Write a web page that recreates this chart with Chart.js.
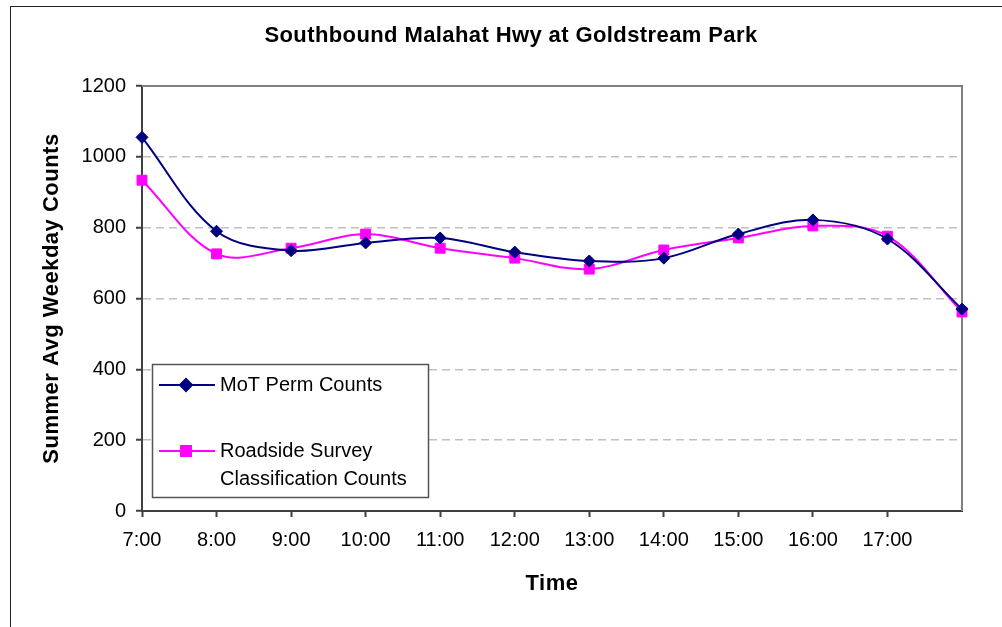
<!DOCTYPE html>
<html>
<head>
<meta charset="utf-8">
<script src="https://cdn.jsdelivr.net/npm/chart.js@4.4.0/dist/chart.umd.min.js"></script>
<style>
  html, body { margin: 0; padding: 0; background: #fff; }
  #wrap { width: 1002px; height: 627px; }
</style>
</head>
<body>
<div id="wrap"><canvas id="chart" width="1002" height="627"></canvas></div>
<script>
// Data (18:00 has no label on the axis)
const hours = ['7:00', '8:00', '9:00', '10:00', '11:00', '12:00', '13:00', '14:00', '15:00', '16:00', '17:00', ''];
const motPerm = [1055, 790, 735, 757, 771, 731, 706, 714, 782, 822, 768, 570];
const roadside = [934, 726, 742, 782, 742, 714, 683, 737, 771, 805, 776, 562];
const yMin = 0, yMax = 1200, yStep = 200;

const chartTitle = 'Southbound Malahat Hwy at Goldstream Park';
const xTitle = 'Time';
const yTitle = 'Summer Avg Weekday Counts';
const legendLines = [['MoT Perm Counts'], ['Roadside Survey', 'Classification Counts']];

const FONT = 'Arial, "Liberation Sans", sans-serif';
const axisColor = '#404040';

// titles, outer frame, plot border and the boxed legend
const decorations = {
  id: 'decorations',
  beforeDraw(chart) {
    const ctx = chart.ctx;
    const area = chart.chartArea;
    ctx.save();
    ctx.fillStyle = '#fff';
    ctx.fillRect(0, 0, chart.width, chart.height);
    ctx.strokeStyle = '#222';
    ctx.lineWidth = 1;
    ctx.strokeRect(10.5, 6.5, chart.width + 20, chart.height + 20);

    ctx.fillStyle = '#000';
    ctx.textAlign = 'center';
    ctx.textBaseline = 'middle';
    ctx.font = 'bold 22px ' + FONT;
    ctx.letterSpacing = '0.4px';
    ctx.fillText(chartTitle, 511, 36);
    ctx.letterSpacing = '0.5px';
    ctx.fillText(xTitle, (area.left + area.right) / 2, 584);

    ctx.translate(52, (area.top + area.bottom) / 2);
    ctx.rotate(-Math.PI / 2);
    ctx.fillText(yTitle, 0, 0);
    ctx.restore();
  },
  beforeDatasetsDraw(chart) {
    const ctx = chart.ctx;
    const { left, top, right, bottom } = chart.chartArea;
    ctx.save();
    ctx.strokeStyle = '#808080';
    ctx.lineWidth = 2;
    ctx.beginPath();
    ctx.moveTo(left, top);
    ctx.lineTo(right, top);
    ctx.lineTo(right, bottom);
    ctx.stroke();
    ctx.restore();
  },
  afterDraw(chart) {
    const ctx = chart.ctx;
    const box = { x: 152, y: 364, w: 276, h: 133 };
    ctx.save();
    ctx.fillStyle = '#fff';
    ctx.fillRect(box.x, box.y, box.w, box.h);
    ctx.strokeStyle = '#555';
    ctx.lineWidth = 1.5;
    ctx.strokeRect(box.x + 0.5, box.y + 0.5, box.w, box.h);

    const rows = [385, 451];
    chart.data.datasets.forEach((ds, i) => {
      const y = rows[i];
      ctx.strokeStyle = ds.borderColor;
      ctx.lineWidth = ds.borderWidth;
      ctx.beginPath();
      ctx.moveTo(159, y);
      ctx.lineTo(215, y);
      ctx.stroke();
      ctx.fillStyle = ds.pointBackgroundColor;
      ctx.strokeStyle = ds.pointBorderColor;
      Chart.helpers.drawPoint(ctx, {
        pointStyle: ds.pointStyle, radius: ds.pointRadius, rotation: 0, borderWidth: 1
      }, 186, y);
      ctx.fillStyle = '#000';
      ctx.font = '20px ' + FONT;
      ctx.textAlign = 'left';
      ctx.textBaseline = 'middle';
      legendLines[i].forEach((t, j) => ctx.fillText(t, 220, y + j * 28));
    });
    ctx.restore();
  }
};

new Chart(document.getElementById('chart'), {
  type: 'line',
  data: {
    labels: hours,
    datasets: [
      {
        label: 'MoT Perm Counts',
        data: motPerm,
        borderColor: '#000080',
        backgroundColor: '#000080',
        pointBackgroundColor: '#000080',
        pointBorderColor: '#000080',
        borderWidth: 2,
        pointStyle: 'rectRot',
        pointRadius: 6,
        pointBorderWidth: 1,
        tension: 0.35
      },
      {
        label: 'Roadside Survey Classification Counts',
        data: roadside,
        borderColor: '#FF00FF',
        backgroundColor: '#FF00FF',
        pointBackgroundColor: '#FF00FF',
        pointBorderColor: '#FF00FF',
        borderWidth: 2,
        pointStyle: 'rect',
        pointRadius: 7,
        pointBorderWidth: 1,
        tension: 0.35
      }
    ]
  },
  options: {
    responsive: false,
    animation: false,
    devicePixelRatio: 1,
    layout: { padding: { left: 0, right: 40, top: 86, bottom: 0 } },
    plugins: {
      legend: { display: false },
      title: { display: false },
      tooltip: { enabled: false }
    },
    scales: {
      x: {
        offset: false,
        afterFit(scale) { scale.height = 116; },
        grid: {
          drawOnChartArea: false, tickLength: 6, tickWidth: 2,
          tickColor: (c) => (c.index === hours.length - 1 ? 'rgba(0,0,0,0)' : axisColor)
        },
        border: { color: axisColor, width: 2 },
        ticks: {
          autoSkip: false, maxRotation: 0, padding: 11,
          color: '#000', font: { family: FONT, size: 20 }
        }
      },
      y: {
        min: yMin, max: yMax,
        afterFit(scale) { scale.width = 142; },
        grid: {
          color: '#c0c0c0', lineWidth: 1.5, tickLength: 6, tickColor: axisColor, tickWidth: 2,
          tickBorderDash: []
        },
        border: { color: axisColor, width: 2, dash: [8, 5] },
        ticks: {
          stepSize: yStep, padding: 10,
          callback: (v) => String(v),
          color: '#000', font: { family: FONT, size: 20 }
        }
      }
    }
  },
  plugins: [decorations]
});
</script>
</body>
</html>
